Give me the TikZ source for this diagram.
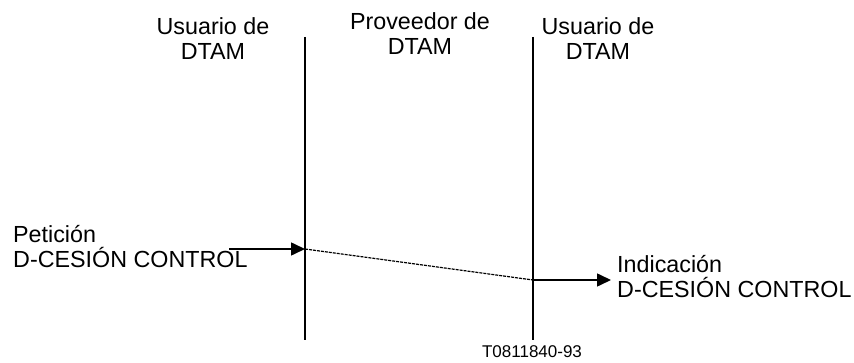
\documentclass[tikz,border=0pt]{standalone}
\usepackage{fontspec}
\setmainfont{Liberation Sans}
\usetikzlibrary{arrows.meta}
\begin{document}
\begin{tikzpicture}[x=1pt,y=-1pt,
  lbl/.style={inner sep=0pt,font=\fontsize{23.3}{25}\selectfont},
  life/.style={line width=1.6pt},
  msg/.style={line width=1.6pt,-{Triangle[length=14pt,width=13pt]}},
  relay/.style={line width=1.2pt,dash pattern=on 3pt off 1pt}]
\useasboundingbox (0,0) rectangle (854,363);
% headers (base = baseline of last line)
\node[lbl,align=center,anchor=base] (hA) at (213,60) {Usuario de\\DTAM};
\node[lbl,align=center,anchor=base] (hB) at (420,55) {Proveedor de\\DTAM};
\node[lbl,align=center,anchor=base] (hC) at (598,60) {Usuario de\\DTAM};
% lifelines
\coordinate (a1) at (305,37);
\coordinate (a2) at (305,340);
\coordinate (c1) at (533,37);
\coordinate (c2) at (533,340);
\draw[life] (a1) -- (a2);
\draw[life] (c1) -- (c2);
% message points
\coordinate (s) at (229,249);
\coordinate (pA) at (305,249);
\coordinate (pC) at (533,280);
\coordinate (e) at (611,280);
\draw[msg] (s) -- (pA);
\draw[relay] (pA) -- (pC);
\draw[msg] (pC) -- (e);
% labels
\node[lbl,align=left,anchor=base west] (req) at (13,268) {Petición\\D-CESIÓN CONTROL};
\node[lbl,align=left,anchor=base west] (ind) at (617,298) {Indicación\\D-CESIÓN CONTROL};
\node[inner sep=0pt,font=\fontsize{17}{20}\selectfont,anchor=base] (ref) at (532,357) {T0811840-93};
\end{tikzpicture}
\end{document}
